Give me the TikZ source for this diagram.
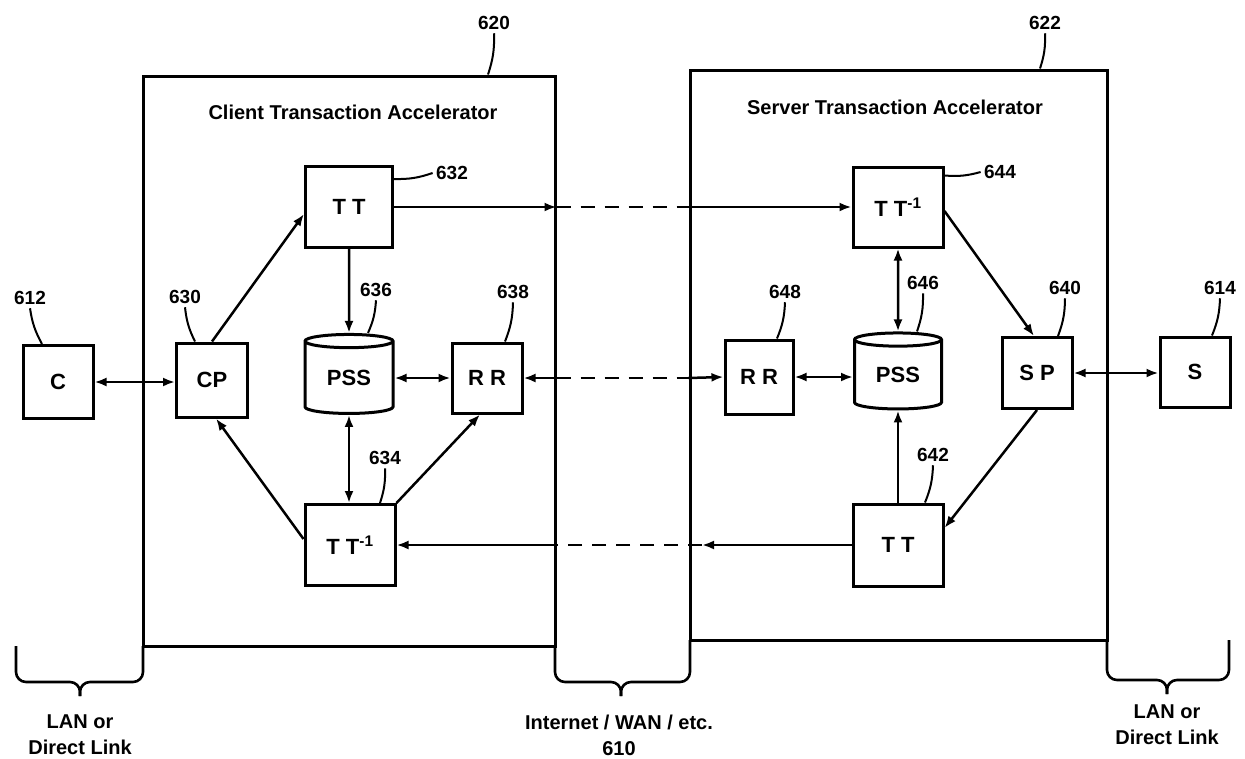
\documentclass[tikz,border=0pt]{standalone}
\usepackage{fontspec}
\setmainfont{Liberation Sans}
\usetikzlibrary{arrows.meta,shapes.geometric}

\begin{document}
\begin{tikzpicture}[x=1pt,y=-1pt,>={Latex[length=12pt,width=9pt]},every node/.style={font=\bfseries}]
  \tikzset{blk/.style={rectangle,draw,line width=3pt,fill=white,inner sep=0pt,font=\fontsize{22}{26}\selectfont\bfseries},
    db/.style={cylinder,shape border rotate=90,aspect=0.3,draw,line width=3pt,fill=white,inner sep=0pt,font=\fontsize{22}{26}\selectfont\bfseries},
    acc/.style={rectangle,draw,line width=3pt,inner sep=0pt},
    num/.style={font=\fontsize{19}{22}\selectfont\bfseries},
    ttl/.style={font=\fontsize{20}{26}\selectfont\bfseries},
    con/.style={line width=2.5pt},
    lead/.style={line width=2pt},
    brc/.style={line width=2.6pt,rounded corners=10pt},
    dsh/.style={line width=2.5pt,dash pattern=on 14pt off 10pt}}
  \useasboundingbox (0,0) rectangle (1245,758);

  \node[acc,minimum width=412pt,minimum height=570pt] (cta) at (349,361) {};
  \node[acc,minimum width=417pt,minimum height=570pt] (sta) at (898.5,355) {};
  \node[ttl] (ctitle) at (353,112) {Client Transaction Accelerator};
  \node[ttl] (stitle) at (895,107) {Server Transaction Accelerator};

  \node[blk,minimum width=70pt,minimum height=73pt] (c) at (58,382) {C};
  \node[blk,minimum width=71pt,minimum height=74pt] (cp) at (212,380) {CP};
  \node[blk,minimum width=87pt,minimum height=81pt] (tt) at (349,207) {T T};
  \node[db,minimum width=88pt,minimum height=79pt] (pss) at (349,378) {PSS};
  \node[blk,minimum width=70pt,minimum height=70pt] (rr) at (487,378) {R R};
  \node[blk,minimum width=90pt,minimum height=81pt] (tti) at (350,545) {T T\textsuperscript{-1}};
  \node[blk,minimum width=90pt,minimum height=80pt] (tts) at (898,207) {T T\textsuperscript{-1}};
  \node[blk,minimum width=68pt,minimum height=74pt] (rrs) at (759,377) {R R};
  \node[db,minimum width=87pt,minimum height=76pt] (psss) at (898,375) {PSS};
  \node[blk,minimum width=70pt,minimum height=71pt] (sp) at (1037,373) {S P};
  \node[blk,minimum width=70pt,minimum height=70pt] (s) at (1195,372) {S};
  \node[blk,minimum width=90pt,minimum height=82pt] (ttc) at (898,545) {T T};

  \node[num] (l620) at (494,23) {620};
  \node[num] (l622) at (1045,23) {622};
  \node[num] (l612) at (30,298) {612};
  \node[num] (l630) at (185,297) {630};
  \node[num] (l632) at (452,173) {632};
  \node[num] (l636) at (376,290) {636};
  \node[num] (l638) at (513,292) {638};
  \node[num] (l634) at (385,458) {634};
  \node[num] (l644) at (1000,172) {644};
  \node[num] (l648) at (785,292) {648};
  \node[num] (l646) at (923,283) {646};
  \node[num] (l640) at (1065,288) {640};
  \node[num] (l614) at (1220,288) {614};
  \node[num] (l642) at (933,455) {642};

  \draw[lead] (l620.south) to[bend left=10] ([xshift=139pt]cta.north);
  \draw[lead] (l622.south) to[bend left=10] ([xshift=141.5pt]sta.north);
  \draw[lead] (l612.south) to[bend right=10] ([xshift=-16pt]c.north);
  \draw[lead] (l630.south) to[bend right=10] ([xshift=-17pt]cp.north);
  \draw[lead] (l632.west) to[bend left=10] ([yshift=-14pt]tt.north east);
  \draw[lead] (l636.south) to[bend left=10] ([xshift=19pt]pss.north);
  \draw[lead] (l638.south) to[bend left=10] ([xshift=18pt]rr.north);
  \draw[lead] (l634.south) to[bend left=10] ([xshift=30pt]tti.north);
  \draw[lead] (l644.west) to[bend left=10] ([yshift=-10pt]tts.north east);
  \draw[lead] (l648.south) to[bend left=10] ([xshift=18pt]rrs.north);
  \draw[lead] (l646.south) to[bend left=10] ([xshift=19pt]psss.north);
  \draw[lead] (l640.south) to[bend left=10] ([xshift=21pt]sp.north);
  \draw[lead] (l614.south) to[bend left=10] ([xshift=17pt]s.north);
  \draw[lead] (l642.south) to[bend left=10] ([xshift=27pt]ttc.north);

  \draw[con,<->] (c.east) -- (c.east -| cp.west);
  \draw[con,->] (cp.north) -- ([yshift=-7pt]tt.west);
  \draw[con,->] (tt.south) -- (pss.north);
  \draw[con,<->] (pss.south) -- (pss.south |- tti.north);
  \draw[con,<->] (pss.east) -- (pss.east -| rr.west);
  \draw[con,->] (tti.north east) -- ([xshift=-7pt]rr.south);
  \draw[con,->] ([yshift=6pt]tti.west) -- ([xshift=4pt]cp.south);

  \draw[con,<->] (rrs.east) -- (rrs.east -| psss.west);
  \draw[con,<->] (tts.south) -- (psss.north);
  \draw[con,->] (ttc.north) -- (psss.south);
  \draw[con,->] ([yshift=-4pt]tts.east) -- ([xshift=-3pt]sp.north);
  \draw[con,->] (sp.south) -- ([yshift=17pt]ttc.east);
  \draw[con,<->] (sp.east) -- (sp.east -| s.west);

  \coordinate (d2) at (702,545);
  \draw[con,->] (tt.east) -- (tt.east -| cta.east);
  \draw[dsh] (tt.east -| cta.east) -- (tt.east -| sta.west);
  \draw[con,->] (tt.east -| sta.west) -- (tts.west);
  \draw[con,<-] (rr.east) -- (rr.east -| cta.east);
  \draw[dsh] (rr.east -| cta.east) -- (rr.east -| sta.west);
  \draw[con,->] (rr.east -| sta.west) -- (rrs.west);
  \draw[con,->] (ttc.west) -- (d2);
  \draw[dsh] (d2) -- (ttc.west -| cta.east);
  \draw[con,->] (ttc.west -| cta.east) -- (tti.east);

  \draw[brc] (16,646) -- (16,682) -- (80,682) -- (80,696);
  \draw[brc] (143,646) -- (143,682) -- (80,682) -- (80,696);
  \draw[brc] (555,646) -- (555,682) -- (621,682) -- (621,696);
  \draw[brc] (690,640) -- (690,682) -- (621,682) -- (621,696);
  \draw[brc] (1107,640) -- (1107,680) -- (1167,680) -- (1167,694);
  \draw[brc] (1229,640) -- (1229,680) -- (1167,680) -- (1167,694);

  \node[ttl,align=center] (lanl) at (80,735) {LAN or\\Direct Link};
  \node[ttl,align=center] (wan) at (619,735) {Internet / WAN / etc.\\610};
  \node[ttl,align=center] (lanr) at (1167,725) {LAN or\\Direct Link};
\end{tikzpicture}
\end{document}
